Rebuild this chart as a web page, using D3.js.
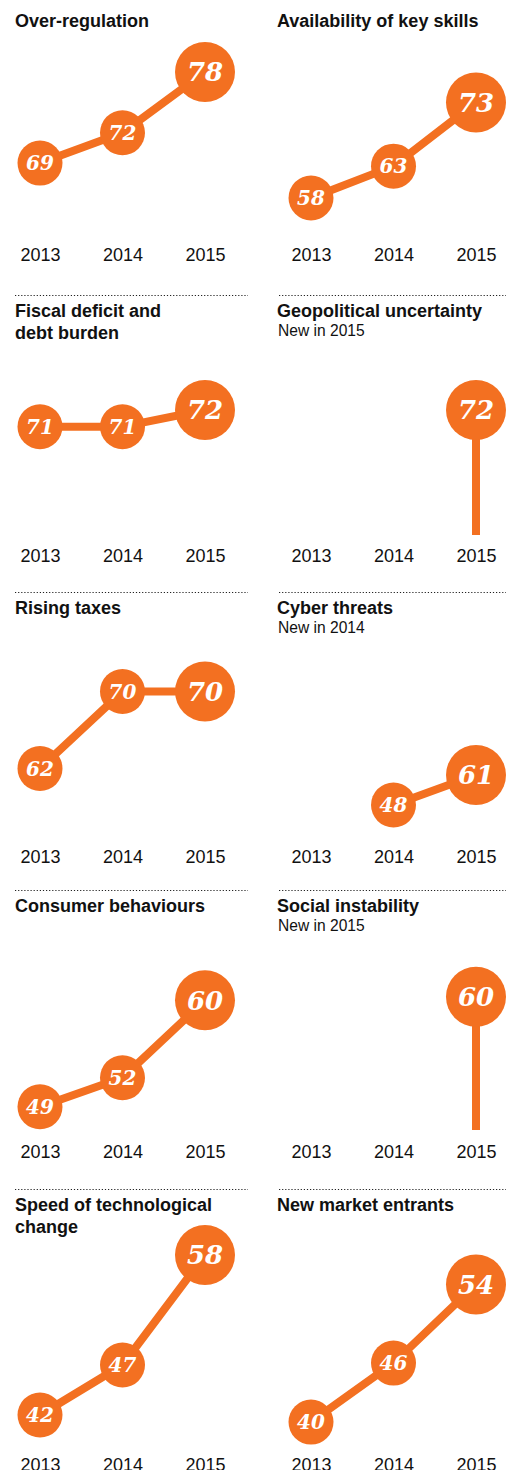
<!DOCTYPE html>
<html>
<head>
<meta charset="utf-8">
<script src="https://cdn.jsdelivr.net/npm/d3@7"></script>
<style>
  html, body { margin: 0; padding: 0; background: #fff; }
  svg { display: block; }
</style>
</head>
<body>
<svg id="chart" width="506" height="1470"></svg>
<script>
// Survey years shown on every small multiple
const years = ["2013", "2014", "2015"];

// Share of CEOs concerned, by year (null = not asked that year)
const overRegulation     = [69, 72, 78];
const keySkills          = [58, 63, 73];
const fiscalDeficit      = [71, 71, 72];
const geopolitical       = [null, null, 72];
const risingTaxes        = [62, 70, 70];
const cyberThreats       = [null, 48, 61];
const consumerBehaviours = [49, 52, 60];
const socialInstability  = [null, null, 60];
const techChange         = [42, 47, 58];
const newEntrants        = [40, 46, 54];

// Panel titles (one entry per line) and sub-notes
const titles = [
  ["Over-regulation"],
  ["Availability of key skills"],
  ["Fiscal deficit and", "debt burden"],
  ["Geopolitical uncertainty"],
  ["Rising taxes"],
  ["Cyber threats"],
  ["Consumer behaviours"],
  ["Social instability"],
  ["Speed of technological", "change"],
  ["New market entrants"]
];
const notes = [null, null, null, "New in 2015", null, "New in 2014", null, "New in 2015", null, null];

const series = [
  overRegulation, keySkills, fiscalDeficit, geopolitical, risingTaxes,
  cyberThreats, consumerBehaviours, socialInstability, techChange, newEntrants
];

// Each panel has its own value scale
const valueDomains = [
  [60.9, 78.7], [50.6, 78.9],
  [64.5, 75.3], [64.5, 75.3],
  [55.4, 74.1], [36.3, 114.2],
  [46.6, 65.2], [46.6, 64.7],
  [40.6, 58.6], [39.3, 57.6]
];

// ---- layout ----
const ORANGE = "#f37021";
const rowTops = [5, 295, 592, 890, 1189];
const axisBaselines = [261, 562, 863, 1158, 1471];
const colLeft = [15, 277];
const colRule = [[15, 248], [279, 506]];
const xRanges = [[40, 205], [311, 476]];
const plotTop = 60, plotBottom = 240;

const svg = d3.select("#chart");

series.forEach((vals, i) => {
  const row = Math.floor(i / 2), col = i % 2;
  const top = rowTops[row];
  const g = svg.append("g");

  const x = d3.scalePoint().domain(years).range(xRanges[col]);
  const y = d3.scaleLinear().domain(valueDomains[i]).range([top + plotBottom, top + plotTop]);

  // dotted separator above every row but the first
  if (row > 0) {
    g.append("line")
      .attr("x1", colRule[col][0]).attr("x2", colRule[col][1])
      .attr("y1", top + 0.5).attr("y2", top + 0.5)
      .attr("stroke", "#222").attr("stroke-width", 1.2)
      .attr("stroke-dasharray", "1.2,1.9");
  }

  // title
  const t = g.append("text")
    .attr("x", colLeft[col]).attr("y", top + 21.5)
    .attr("font-family", "'Liberation Sans', Arial, sans-serif")
    .attr("font-weight", "bold").attr("font-size", 18)
    .attr("fill", "#111");
  titles[i].forEach((line, k) => {
    t.append("tspan").attr("x", colLeft[col]).attr("dy", k === 0 ? 0 : 22.2).text(line);
  });

  if (notes[i]) {
    g.append("text")
      .attr("x", colLeft[col] + 1).attr("y", top + 40.7)
      .attr("font-family", "'Liberation Sans', Arial, sans-serif")
      .attr("font-size", 15.6).attr("fill", "#111")
      .text(notes[i]);
  }

  // year axis
  const axis = g.append("g")
    .attr("transform", `translate(0,${axisBaselines[row] - 12.8})`)
    .call(d3.axisBottom(x).tickSize(0).tickPadding(0));
  axis.select(".domain").remove();
  axis.selectAll("text")
    .attr("font-family", "'Liberation Sans', Arial, sans-serif")
    .attr("font-size", 18).attr("fill", "#111");

  const pts = years.map((yr, k) => ({ year: yr, value: vals[k] })).filter(d => d.value != null);

  if (pts.length > 1) {
    const line = d3.line().x(d => x(d.year)).y(d => y(d.value));
    g.append("path")
      .datum(pts)
      .attr("d", line)
      .attr("fill", "none").attr("stroke", ORANGE)
      .attr("stroke-width", 8).attr("stroke-linejoin", "round");
  } else {
    // single reading: stem down to the floor of the panel
    const d = pts[0];
    g.append("line")
      .attr("x1", x(d.year)).attr("x2", x(d.year))
      .attr("y1", y(d.value)).attr("y2", y.range()[0])
      .attr("stroke", ORANGE).attr("stroke-width", 8);
  }

  const big = d => d.year === "2015";
  const dots = g.selectAll(".dot").data(pts).join("g")
    .attr("transform", d => `translate(${x(d.year)},${y(d.value)})`);
  dots.append("circle")
    .attr("r", d => big(d) ? 30 : 22.5)
    .attr("fill", ORANGE);
  dots.append("text")
    .attr("text-anchor", "middle").attr("dy", "0.36em")
    .attr("font-family", "'DejaVu Serif', Georgia, serif")
    .attr("font-weight", "bold").attr("font-style", "italic")
    .attr("font-size", d => big(d) ? 26 : 20)
    .attr("fill", "#fff")
    .text(d => d.value);
});
</script>
</body>
</html>
